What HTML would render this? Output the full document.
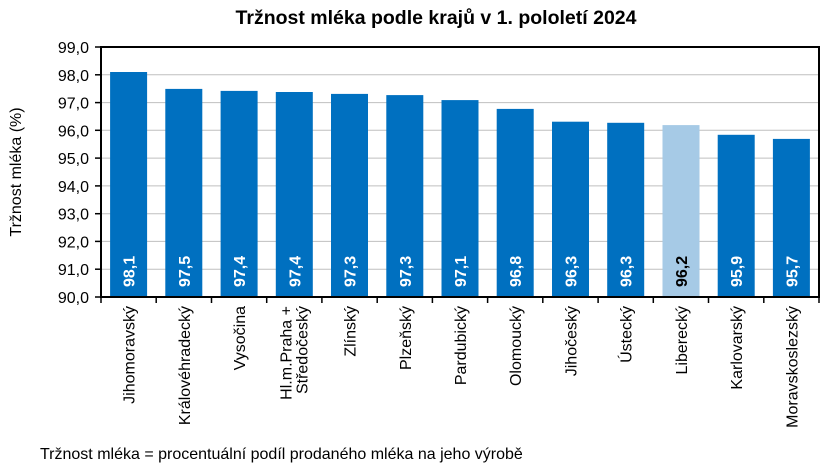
<!DOCTYPE html>
<html><head><meta charset="utf-8"><style>
body{margin:0;background:#fff}
svg{display:block;font-family:"Liberation Sans",Arial,sans-serif}
</style></head><body>
<svg width="832" height="474" viewBox="0 0 832 474" xmlns="http://www.w3.org/2000/svg">
<text x="436" y="24" text-anchor="middle" font-size="19.5" font-weight="bold">Tržnost mléka podle krajů v 1. pololetí 2024</text>
<g stroke="#bfbfbf" stroke-width="1">
<line x1="101" x2="819" y1="74.8" y2="74.8"/>
<line x1="101" x2="819" y1="102.6" y2="102.6"/>
<line x1="101" x2="819" y1="130.3" y2="130.3"/>
<line x1="101" x2="819" y1="158.1" y2="158.1"/>
<line x1="101" x2="819" y1="185.9" y2="185.9"/>
<line x1="101" x2="819" y1="213.7" y2="213.7"/>
<line x1="101" x2="819" y1="241.4" y2="241.4"/>
<line x1="101" x2="819" y1="269.2" y2="269.2"/>
</g>
<g fill="#0070c0">
<rect x="110.1" y="72.0" width="37" height="225.0"/>
<rect x="165.3" y="88.9" width="37" height="208.1"/>
<rect x="220.6" y="90.9" width="37" height="206.1"/>
<rect x="275.8" y="92.0" width="37" height="205.0"/>
<rect x="331.0" y="93.9" width="37" height="203.1"/>
<rect x="386.3" y="95.1" width="37" height="201.9"/>
<rect x="441.5" y="100.1" width="37" height="196.9"/>
<rect x="496.7" y="108.9" width="37" height="188.1"/>
<rect x="552.0" y="121.7" width="37" height="175.3"/>
<rect x="607.2" y="122.8" width="37" height="174.2"/>
<rect x="662.5" y="125.1" width="37" height="171.9" fill="#a6cae6"/>
<rect x="717.7" y="134.8" width="37" height="162.2"/>
<rect x="772.9" y="138.9" width="37" height="158.1"/>
</g>
<g font-size="16" font-weight="bold" fill="#fff">
<text transform="translate(134.6,287) rotate(-90)">98,1</text>
<text transform="translate(189.8,287) rotate(-90)">97,5</text>
<text transform="translate(245.1,287) rotate(-90)">97,4</text>
<text transform="translate(300.3,287) rotate(-90)">97,4</text>
<text transform="translate(355.5,287) rotate(-90)">97,3</text>
<text transform="translate(410.8,287) rotate(-90)">97,3</text>
<text transform="translate(466.0,287) rotate(-90)">97,1</text>
<text transform="translate(521.2,287) rotate(-90)">96,8</text>
<text transform="translate(576.5,287) rotate(-90)">96,3</text>
<text transform="translate(631.7,287) rotate(-90)">96,3</text>
<text transform="translate(687.0,287) rotate(-90)" fill="#000">96,2</text>
<text transform="translate(742.2,287) rotate(-90)">95,9</text>
<text transform="translate(797.4,287) rotate(-90)">95,7</text>
</g>
<rect x="101" y="47" width="718" height="250" fill="none" stroke="#000" stroke-width="2"/>
<g stroke="#000" stroke-width="1.5">
<line x1="95" x2="101" y1="47" y2="47"/><line x1="95" x2="101" y1="74.8" y2="74.8"/><line x1="95" x2="101" y1="102.6" y2="102.6"/><line x1="95" x2="101" y1="130.3" y2="130.3"/><line x1="95" x2="101" y1="158.1" y2="158.1"/><line x1="95" x2="101" y1="185.9" y2="185.9"/><line x1="95" x2="101" y1="213.7" y2="213.7"/><line x1="95" x2="101" y1="241.4" y2="241.4"/><line x1="95" x2="101" y1="269.2" y2="269.2"/><line x1="95" x2="101" y1="297" y2="297"/>
<line x1="101" x2="101" y1="297" y2="303"/><line x1="156.2" x2="156.2" y1="297" y2="303"/><line x1="211.5" x2="211.5" y1="297" y2="303"/><line x1="266.7" x2="266.7" y1="297" y2="303"/><line x1="321.9" x2="321.9" y1="297" y2="303"/><line x1="377.2" x2="377.2" y1="297" y2="303"/><line x1="432.4" x2="432.4" y1="297" y2="303"/><line x1="487.6" x2="487.6" y1="297" y2="303"/><line x1="542.8" x2="542.8" y1="297" y2="303"/><line x1="598.1" x2="598.1" y1="297" y2="303"/><line x1="653.3" x2="653.3" y1="297" y2="303"/><line x1="708.5" x2="708.5" y1="297" y2="303"/><line x1="763.8" x2="763.8" y1="297" y2="303"/><line x1="819" x2="819" y1="297" y2="303"/>
</g>
<g font-size="16" text-anchor="end">
<text x="89" y="53">99,0</text><text x="89" y="80.8">98,0</text><text x="89" y="108.6">97,0</text><text x="89" y="136.3">96,0</text><text x="89" y="164.1">95,0</text><text x="89" y="191.9">94,0</text><text x="89" y="219.7">93,0</text><text x="89" y="247.4">92,0</text><text x="89" y="275.2">91,0</text><text x="89" y="303">90,0</text>
</g>
<g font-size="16" text-anchor="end">
<text transform="translate(134.6,306) rotate(-90)">Jihomoravský</text>
<text transform="translate(189.8,306) rotate(-90)">Královéhradecký</text>
<text transform="translate(245.1,306) rotate(-90)">Vysočina</text>
<text transform="translate(291.5,306) rotate(-90)">Hl.m.Praha +</text>
<text transform="translate(307.5,306) rotate(-90)">Středočeský</text>
<text transform="translate(355.5,306) rotate(-90)">Zlínský</text>
<text transform="translate(410.8,306) rotate(-90)">Plzeňský</text>
<text transform="translate(466.0,306) rotate(-90)">Pardubický</text>
<text transform="translate(521.2,306) rotate(-90)">Olomoucký</text>
<text transform="translate(576.5,306) rotate(-90)">Jihočeský</text>
<text transform="translate(631.7,306) rotate(-90)">Ústecký</text>
<text transform="translate(687.0,306) rotate(-90)">Liberecký</text>
<text transform="translate(742.2,306) rotate(-90)">Karlovarský</text>
<text transform="translate(797.4,306) rotate(-90)">Moravskoslezský</text>
</g>
<text transform="translate(21,172) rotate(-90)" text-anchor="middle" font-size="16">Tržnost mléka (%)</text>
<text x="40" y="459" font-size="16">Tržnost mléka = procentuální podíl prodaného mléka na jeho výrobě</text>
</svg>
</body></html>
